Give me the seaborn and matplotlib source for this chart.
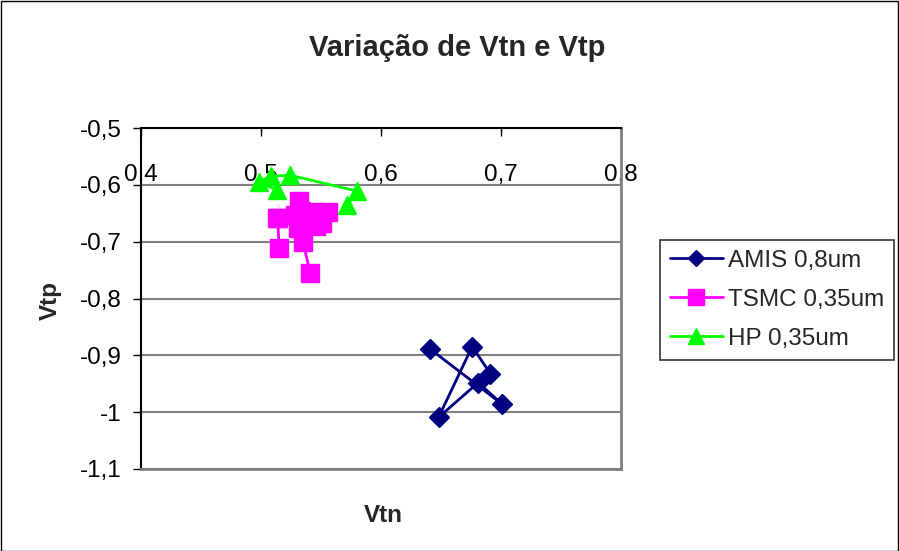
import matplotlib
matplotlib.use("Agg")
import matplotlib.pyplot as plt
import seaborn as sns
import pandas as pd
from matplotlib.patches import Rectangle

# ---- data ----
amis_vtn = [0.691, 0.676, 0.676, 0.648, 0.681, 0.701, 0.641]
amis_vtp = [-0.932, -0.868, -0.901, -1.009, -0.948, -0.986, -0.889]

tsmc_vtn = [0.541, 0.535, 0.531, 0.546, 0.551, 0.556, 0.543, 0.533, 0.532, 0.528, 0.513, 0.514, 0.514, 0.515]
tsmc_vtp = [-0.755, -0.701, -0.676, -0.673, -0.667, -0.648, -0.648, -0.646, -0.629, -0.653, -0.659, -0.634, -0.681, -0.711]

hp_vtn = [0.513, 0.498, 0.508, 0.524, 0.580, 0.572]
hp_vtp = [-0.609, -0.595, -0.585, -0.583, -0.611, -0.636]

series_names = ["AMIS 0,8um", "TSMC 0,35um", "HP 0,35um"]
x_ticks = [0.4, 0.5, 0.6, 0.7, 0.8]
x_tick_labels = ["0,4", "0,5", "0,6", "0,7", "0,8"]
y_ticks = [-0.5, -0.6, -0.7, -0.8, -0.9, -1.0, -1.1]
y_tick_labels = ["-0,5", "-0,6", "-0,7", "-0,8", "-0,9", "-1", "-1,1"]

sns.set_theme(style="white")
plt.rcParams["font.family"] = ["Liberation Sans", "DejaVu Sans"]

W, H = 899, 551
fig = plt.figure(figsize=(W / 100, H / 100), dpi=100)
L, R, T, B = 141, 621, 128, 469
ax = fig.add_axes([L / W, 1 - B / H, (R - L) / W, (B - T) / H])

styles = [
    (amis_vtn, amis_vtp, "#000080", "D", 10),
    (tsmc_vtn, tsmc_vtp, "#FF00FF", "s", 13),
    (hp_vtn, hp_vtp, "#00FF00", "^", 13.5),
]
for (xs, ys, col, mk, ms), name in zip(styles, series_names):
    df = pd.DataFrame({"Vtn": xs, "Vtp": ys})
    sns.lineplot(data=df, x="Vtn", y="Vtp", sort=False, ax=ax, color=col,
                 marker=mk, markersize=ms, markeredgecolor=col,
                 markeredgewidth=1, linewidth=2, label=name)

ax.set_xlim(0.4, 0.8)
ax.set_ylim(-1.1, -0.5)
ax.set_xticks(x_ticks)
ax.set_xticklabels(x_tick_labels)
ax.set_yticks(y_ticks)
ax.set_yticklabels(y_tick_labels)
ax.xaxis.tick_top()
ax.tick_params(axis="x", direction="in", length=6, width=1, color="black",
               pad=-42, labelsize=17.5, labelcolor="black")
ax.tick_params(axis="y", direction="out", length=6, width=1, color="black",
               pad=8, labelsize=17.5, labelcolor="black", left=True)
ax.set_xlabel("")
ax.set_ylabel("")
ax.grid(axis="y", color="#808080", linewidth=1.5)
ax.grid(axis="x", visible=False)
ax.set_axisbelow(True)
for side in ["left", "top"]:
    ax.spines[side].set_color("black")
    ax.spines[side].set_linewidth(1.5)
for side in ["right", "bottom"]:
    ax.spines[side].set_color("#808080")
    ax.spines[side].set_linewidth(2)
    ax.spines[side].set_visible(True)

leg = ax.legend(loc="upper left", bbox_to_anchor=(660 / W, 1 - 240 / H),
                bbox_transform=fig.transFigure, frameon=True, fancybox=False,
                fontsize=17.5, handlelength=2.2, handletextpad=0.2,
                labelspacing=0.7, borderpad=0.4, borderaxespad=0,
                markerscale=0.85)
leg.get_frame().set_edgecolor("black")
leg.get_frame().set_linewidth(1.2)

fig.text(457 / W, 1 - 48 / H, "Variação de Vtn e Vtp", ha="center", va="center",
         fontsize=21, fontweight="bold")
fig.text(50 / W, 1 - 300 / H, "Vtp", ha="center", va="center", rotation=90,
         fontsize=17.5, fontweight="bold")
fig.text(383 / W, 1 - 515 / H, "Vtn", ha="center", va="center",
         fontsize=17.5, fontweight="bold")

fig.patches.append(Rectangle((0.5 / W, 0.5 / H), 1 - 1.5 / W, 1 - 1.5 / H,
                             transform=fig.transFigure, fill=False,
                             edgecolor="black", linewidth=1))

fig.savefig("out.png", dpi=100)
